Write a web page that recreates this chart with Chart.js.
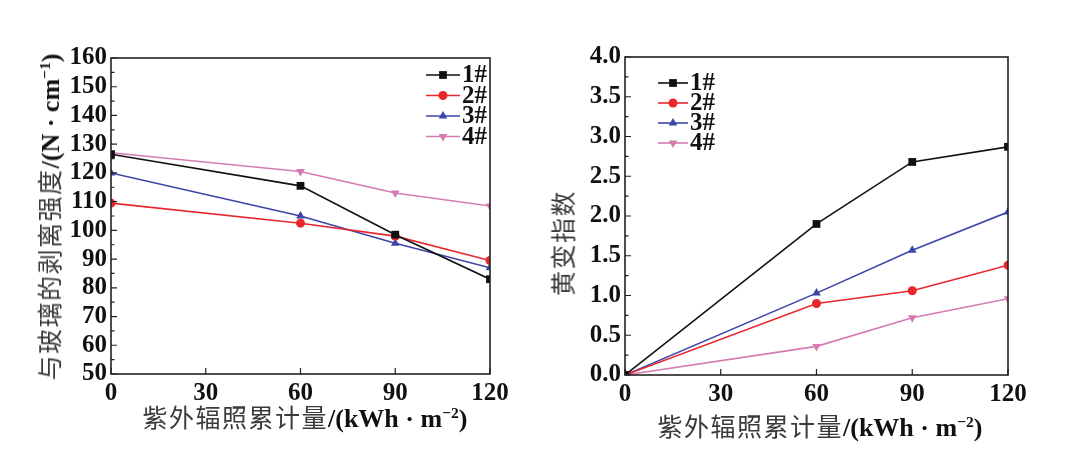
<!DOCTYPE html>
<html>
<head>
<meta charset="utf-8">
<script src="https://cdn.jsdelivr.net/npm/chart.js@4/dist/chart.umd.min.js"></script>
<style>
  body { margin: 0; background: #fff; }
  #wrap { position: relative; width: 1080px; height: 472px; background: #fff; overflow: hidden; }
  .panel { position: absolute; top: 0; width: 540px; height: 472px; }
  .title { position: absolute; white-space: nowrap; transform: translate(-50%, -50%); font-size: 25px; line-height: 1; }
  .title.rot { transform: translate(-50%, -50%) rotate(-90deg); }
  .cjk { font-family: 'Noto Sans CJK SC', sans-serif; font-weight: 400; color: #3a3a3a; letter-spacing: 1.5px; }
  .lat { font-family: 'Liberation Serif', serif; font-weight: bold; color: #111; font-size: 26px; }
  .lat sup { font-size: 60%; vertical-align: 0.6em; line-height: 0; }
</style>
</head>
<body>
<div id="wrap">
  <div class="panel" style="left:0"><canvas id="peel-chart" width="540" height="472"></canvas></div>
  <div class="panel" style="left:540px"><canvas id="yellow-chart" width="540" height="472"></canvas></div>
  <div class="title" style="left:305px;top:418px"><span class="cjk">紫外辐照累计量</span><span class="lat">/(kWh · m<sup>−2</sup>)</span></div>
  <div class="title" style="left:820px;top:427px"><span class="cjk">紫外辐照累计量</span><span class="lat">/(kWh · m<sup>−2</sup>)</span></div>
  <div class="title rot" style="left:50px;top:217px"><span class="cjk">与玻璃的剥离强度</span><span class="lat">/(N · cm<sup>−1</sup>)</span></div>
  <div class="title rot" style="left:563px;top:243px"><span class="cjk">黄变指数</span></div>
</div>
<script>
// UV dose (kWh/m2)
const doses = [0, 60, 90, 120];
const seriesNames = ['1#', '2#', '3#', '4#'];

// peel strength with glass (N/cm)
const peel1 = [126.5, 115.5, 98.5, 83];
const peel2 = [109.5, 102.5, 98, 89.5];
const peel3 = [120, 105, 95.5, 87];
const peel4 = [127, 120.5, 113, 108.5];

// yellowing index
const yellow1 = [0, 1.9, 2.68, 2.87];
const yellow2 = [0, 0.9, 1.06, 1.38];
const yellow3 = [0, 1.03, 1.57, 2.05];
const yellow4 = [0, 0.36, 0.72, 0.96];

// tick labels
const xTicks = [0, 30, 60, 90, 120];
const peelTicks = [50, 60, 70, 80, 90, 100, 110, 120, 130, 140, 150, 160];
const yellowTicks = [0, 0.5, 1.0, 1.5, 2.0, 2.5, 3.0, 3.5, 4.0];

const colors = ['#111111', '#e8272c', '#3c45a8', '#d57bb2'];
const pointStyles = ['rect', 'circle', 'triangle', 'triangle'];
const pointRotations = [0, 0, 0, 180];
const pointRadii = [5.5, 4.5, 5, 5];

const tickFont = { family: "'Liberation Serif', serif", size: 25, weight: 'bold' };

function makeDatasets(series) {
    return series.map((vals, i) => ({
        label: seriesNames[i],
        data: vals.map((v, j) => ({ x: doses[j], y: v })),
        borderColor: colors[i],
        backgroundColor: colors[i],
        borderWidth: 1.6,
        pointStyle: pointStyles[i],
        pointRotation: pointRotations[i],
        pointRadius: pointRadii[i],
        pointBorderWidth: 0,
        tension: 0
    }));
}

// frame box + inward ticks (major and minor)
const framePlugin = {
    id: 'frame',
    afterDatasetsDraw(chart, args, opts) {
        const { ctx, chartArea: a, scales } = chart;
        ctx.save();
        ctx.strokeStyle = '#222';
        ctx.lineWidth = 1.6;
        ctx.strokeRect(a.left, a.top, a.right - a.left, a.bottom - a.top);
        ctx.lineWidth = 1.2;
        ctx.beginPath();
        scales.x.ticks.forEach(t => {
            const px = scales.x.getPixelForValue(t.value);
            ctx.moveTo(px, a.bottom);
            ctx.lineTo(px, a.bottom - 6);
        });
        const yt = scales.y.ticks;
        yt.forEach((t, i) => {
            const py = scales.y.getPixelForValue(t.value);
            ctx.moveTo(a.left, py);
            ctx.lineTo(a.left + 6, py);
            if (i < yt.length - 1) {
                const pm = scales.y.getPixelForValue((t.value + yt[i + 1].value) / 2);
                ctx.moveTo(a.left, pm);
                ctx.lineTo(a.left + 3.5, pm);
            }
        });
        ctx.stroke();
        ctx.restore();
    }
};

// legend drawn inside the plot: line segment + marker + label
const innerLegend = {
    id: 'innerLegend',
    afterDraw(chart, args, opts) {
        const { ctx } = chart;
        ctx.save();
        chart.data.datasets.forEach((ds, i) => {
            const y = opts.y + i * opts.dy;
            ctx.strokeStyle = ds.borderColor;
            ctx.lineWidth = 1.6;
            ctx.beginPath();
            ctx.moveTo(opts.x, y);
            ctx.lineTo(opts.x + opts.len, y);
            ctx.stroke();
            ctx.fillStyle = ds.backgroundColor;
            Chart.helpers.drawPoint(ctx, {
                pointStyle: ds.pointStyle,
                rotation: ds.pointRotation,
                radius: ds.pointRadius,
                borderWidth: 0
            }, opts.x + opts.len / 2, y);
            ctx.fillStyle = '#111';
            ctx.font = "bold 25px 'Liberation Serif', serif";
            ctx.textBaseline = 'middle';
            ctx.fillText(ds.label, opts.x + opts.len + 2, y + 1);
        });
        ctx.restore();
    }
};

function makeChart(id, series, yTicks, area, legend, decimals) {
    const canvas = document.getElementById(id);
    return new Chart(canvas, {
        type: 'line',
        data: { datasets: makeDatasets(series) },
        plugins: [framePlugin, innerLegend],
        options: {
            responsive: false,
            animation: false,
            devicePixelRatio: 1,
            layout: {
                padding: { left: 0, top: area.top, right: 540 - area.right, bottom: 0 }
            },
            plugins: {
                legend: { display: false },
                tooltip: { enabled: false },
                innerLegend: legend
            },
            scales: {
                x: {
                    type: 'linear',
                    min: xTicks[0],
                    max: xTicks[xTicks.length - 1],
                    afterBuildTicks: s => { s.ticks = xTicks.map(v => ({ value: v })); },
                    afterFit: s => { s.height = 472 - area.bottom; },
                    grid: { display: false, drawTicks: false },
                    border: { display: false },
                    ticks: { font: tickFont, color: '#111', padding: 5, maxRotation: 0, autoSkip: false }
                },
                y: {
                    type: 'linear',
                    min: yTicks[0],
                    max: yTicks[yTicks.length - 1],
                    afterBuildTicks: s => { s.ticks = yTicks.map(v => ({ value: v })); },
                    afterFit: s => { s.width = area.left; },
                    grid: { display: false, drawTicks: false },
                    border: { display: false },
                    ticks: {
                        font: tickFont,
                        color: '#111',
                        padding: 4,
                        autoSkip: false,
                        callback: v => v.toFixed(decimals)
                    }
                }
            }
        }
    });
}

makeChart('peel-chart', [peel1, peel2, peel3, peel4], peelTicks,
    { left: 111, right: 490, top: 58, bottom: 374 },
    { x: 426, y: 75, dy: 20.5, len: 34 }, 0);

makeChart('yellow-chart', [yellow1, yellow2, yellow3, yellow4], yellowTicks,
    { left: 85, right: 468, top: 57, bottom: 375 },
    { x: 118, y: 83, dy: 20, len: 30 }, 1);
</script>
</body>
</html>
